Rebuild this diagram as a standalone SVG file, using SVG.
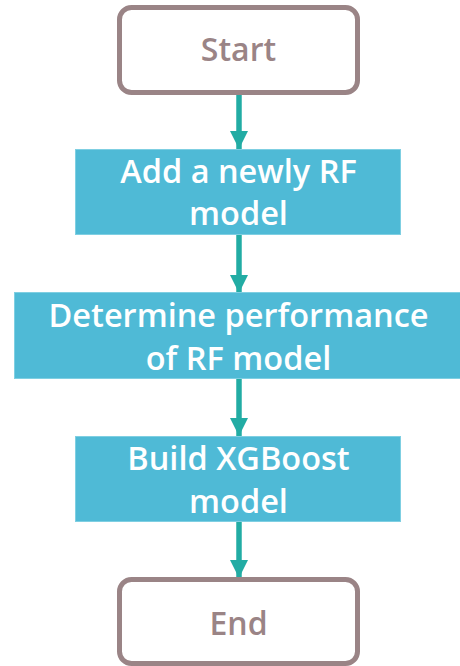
<svg xmlns="http://www.w3.org/2000/svg" width="460" height="666" viewBox="0 0 460 666">
  <style>
    .term rect { fill: #ffffff; stroke: #9a8486; stroke-width: 5; }
    .term text { fill: #9a8486; font-family: "Open Sans", "Noto Sans", sans-serif; font-weight: 600; font-size: 32px; text-anchor: middle; }
    .proc rect { fill: #4fbad6; stroke: #7fcfe2; stroke-width: 1; }
    .proc text { fill: #ffffff; font-family: "Open Sans", "Noto Sans", sans-serif; font-weight: 600; font-size: 32.5px; text-anchor: middle; }
    .edge { stroke: #22aca4; stroke-width: 5.5; fill: none; }
  </style>
  <defs>
    <marker id="arrow" markerUnits="userSpaceOnUse" markerWidth="20" markerHeight="18" refX="18" refY="9" orient="auto">
      <path d="M0,0 L18,9 L0,18 Z" fill="#22aca4"/>
    </marker>
  </defs>
  <rect width="460" height="666" fill="#ffffff"/>

  <g id="connectors">
    <line class="edge" x1="239" y1="95" x2="239" y2="149" marker-end="url(#arrow)"/>
    <line class="edge" x1="239" y1="234" x2="239" y2="293" marker-end="url(#arrow)"/>
    <line class="edge" x1="239" y1="378" x2="239" y2="436" marker-end="url(#arrow)"/>
    <line class="edge" x1="239" y1="521" x2="239" y2="578" marker-end="url(#arrow)"/>
  </g>

  <g id="start" class="term">
    <rect x="119.5" y="7.5" width="238" height="85" rx="12"/>
    <text x="238.5" y="61">Start</text>
  </g>

  <g id="add-rf" class="proc">
    <rect x="75.5" y="149.5" width="325" height="85"/>
    <text x="238.5" y="183">Add a newly RF</text>
    <text x="238.5" y="225">model</text>
  </g>

  <g id="determine" class="proc">
    <rect x="14.5" y="292.5" width="450" height="86"/>
    <text x="238.5" y="327">Determine performance</text>
    <text x="238.5" y="370">of RF model</text>
  </g>

  <g id="xgboost" class="proc">
    <rect x="75.5" y="436.5" width="325" height="85"/>
    <text x="238.5" y="470">Build XGBoost</text>
    <text x="238.5" y="513">model</text>
  </g>

  <g id="end" class="term">
    <rect x="119.5" y="579.5" width="238" height="84" rx="12"/>
    <text x="238.5" y="635">End</text>
  </g>
</svg>
